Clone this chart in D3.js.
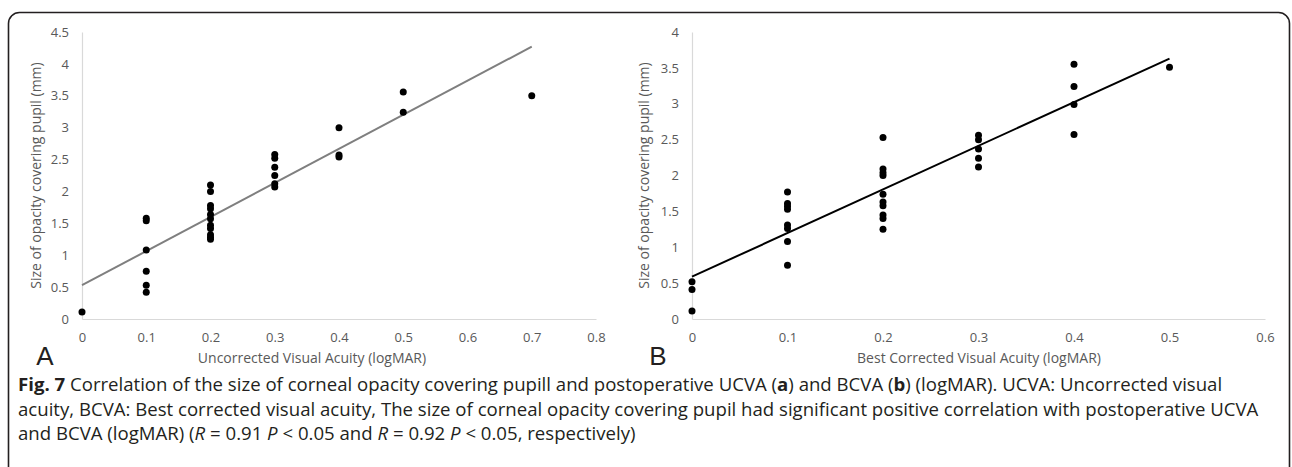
<!DOCTYPE html>
<html>
<head>
<meta charset="utf-8">
<script src="https://cdn.jsdelivr.net/npm/d3@7"></script>
<style>
  body { margin: 0; background: #fff; }
  .axis text { font-family: "Open Sans", sans-serif; font-size: 13px; fill: #595959; }
  .axis path { stroke: #d9d9d9; stroke-width: 1.2; }
  .axis-label { font-family: "Open Sans", sans-serif; font-size: 14px; fill: #595959; }
  .panel-letter { font-family: "Liberation Sans", Arial, sans-serif; font-size: 26px; fill: #231f20; }
  .caption { font-family: "Open Sans", sans-serif; font-size: 18.6px; fill: #231f20; }
</style>
</head>
<body>
<div id="vis_container"></div>
<script>
// Panel A: size of opacity (mm) vs UCVA (logMAR)
var ucvaLevels = [0, 0.1, 0.2, 0.3, 0.4, 0.5, 0.7];
var ucvaOpacity = [
  [0.11],
  [1.58, 1.54, 1.08, 0.75, 0.53, 0.42],
  [2.1, 2.0, 1.78, 1.73, 1.64, 1.57, 1.47, 1.42, 1.32, 1.28, 1.25],
  [2.58, 2.52, 2.38, 2.25, 2.12, 2.07],
  [3.0, 2.57, 2.54],
  [3.56, 3.24],
  [3.5]
];
var ucvaFitX = [0, 0.7];
var ucvaFitY = [0.53, 4.27];
var ucvaXTicks = [0, 0.1, 0.2, 0.3, 0.4, 0.5, 0.6, 0.7, 0.8];
var ucvaYTicks = [0, 0.5, 1, 1.5, 2, 2.5, 3, 3.5, 4, 4.5];

// Panel B: size of opacity (mm) vs BCVA (logMAR)
var bcvaLevels = [0, 0.1, 0.2, 0.3, 0.4, 0.5];
var bcvaOpacity = [
  [0.52, 0.41, 0.11],
  [1.77, 1.61, 1.57, 1.53, 1.31, 1.26, 1.08, 0.75],
  [2.53, 2.09, 2.04, 2.0, 1.74, 1.63, 1.58, 1.45, 1.4, 1.25],
  [2.56, 2.5, 2.37, 2.24, 2.12],
  [3.55, 3.24, 2.99, 2.57],
  [3.51]
];
var bcvaFitX = [0, 0.5];
var bcvaFitY = [0.59, 3.63];
var bcvaXTicks = [0, 0.1, 0.2, 0.3, 0.4, 0.5, 0.6];
var bcvaYTicks = [0, 0.5, 1, 1.5, 2, 2.5, 3, 3.5, 4];

var captionLines = [
  [["b", "Fig. 7"], ["n", " Correlation of the size of corneal opacity covering pupill and postoperative UCVA ("], ["b", "a"], ["n", ") and BCVA ("], ["b", "b"], ["n", ") (logMAR). UCVA: Uncorrected visual"]],
  [["n", "acuity, BCVA: Best corrected visual acuity, The size of corneal opacity covering pupil had significant positive correlation with postoperative UCVA"]],
  [["n", "and BCVA (logMAR) ("], ["i", "R"], ["n", " = 0.91 "], ["i", "P"], ["n", " < 0.05 and "], ["i", "R"], ["n", " = 0.92 "], ["i", "P"], ["n", " < 0.05, respectively)"]]
];

var width = 1292;
var height = 467;

var svg = d3.select("#vis_container")
    .append("svg")
    .attr("width", width)
    .attr("height", height);

// rounded frame round the figure (bottom edge falls off the page)
svg.append("rect")
    .attr("x", 8.5)
    .attr("y", 12.5)
    .attr("width", 1281)
    .attr("height", 500)
    .attr("rx", 11)
    .attr("fill", "none")
    .attr("stroke", "#231f20")
    .attr("stroke-width", 1.6);

var tickFmt = d3.format("~g");

function buildScatter(opt) {
    var x = d3.scaleLinear().domain(opt.xDomain).range([opt.left, opt.right]);
    var y = d3.scaleLinear().domain(opt.yDomain).range([opt.bottom, opt.top]);

    svg.append("g")
        .attr("class", "axis")
        .attr("transform", "translate(0," + opt.bottom + ")")
        .call(d3.axisBottom(x).tickValues(opt.xTicks).tickSize(0).tickPadding(14).tickFormat(tickFmt));

    svg.append("g")
        .attr("class", "axis")
        .attr("transform", "translate(" + opt.left + ",0)")
        .call(d3.axisLeft(y).tickValues(opt.yTicks).tickSize(0).tickPadding(13).tickFormat(tickFmt));

    // x axis label
    svg.append("text")
        .attr("class", "axis-label")
        .attr("x", opt.xLabelX)
        .attr("y", 363)
        .style("text-anchor", "middle")
        .text(opt.xLabel);

    // y axis label
    svg.append("text")
        .attr("class", "axis-label")
        .attr("transform", "translate(" + opt.yLabelX + "," + ((opt.top + opt.bottom) / 2) + ") rotate(-90)")
        .style("text-anchor", "middle")
        .text(opt.yLabel);

    svg.append("text")
        .attr("class", "panel-letter")
        .attr("x", opt.letterX)
        .attr("y", 365)
        .style("text-anchor", "middle")
        .text(opt.letter);

    var lineFunc = d3.line()
        .x(function (d) { return x(d[0]); })
        .y(function (d) { return y(d[1]); });

    svg.append("path")
        .attr("d", lineFunc(d3.zip(opt.fitX, opt.fitY)))
        .attr("stroke", opt.lineColor)
        .attr("stroke-width", opt.lineWidth)
        .attr("fill", "none");

    var pts = [];
    opt.levels.forEach(function (lv, i) {
        opt.values[i].forEach(function (v) { pts.push([lv, v]); });
    });

    svg.append("g")
        .selectAll("circle")
        .data(pts)
        .enter()
        .append("circle")
        .attr("cx", function (d) { return x(d[0]); })
        .attr("cy", function (d) { return y(d[1]); })
        .attr("r", 3.5)
        .attr("fill", "#000");
}

buildScatter({
    xDomain: [0, 0.8], yDomain: [0, 4.5],
    left: 82, right: 596, top: 32, bottom: 319,
    xTicks: ucvaXTicks, yTicks: ucvaYTicks,
    levels: ucvaLevels, values: ucvaOpacity,
    fitX: ucvaFitX, fitY: ucvaFitY,
    lineColor: "#7f7f7f", lineWidth: 2,
    xLabel: "Uncorrected Visual Acuity (logMAR)", xLabelX: 312,
    yLabel: "Size of opacity covering pupil (mm)", yLabelX: 41,
    letter: "A", letterX: 45
});

buildScatter({
    xDomain: [0, 0.6], yDomain: [0, 4],
    left: 692, right: 1265, top: 32, bottom: 319,
    xTicks: bcvaXTicks, yTicks: bcvaYTicks,
    levels: bcvaLevels, values: bcvaOpacity,
    fitX: bcvaFitX, fitY: bcvaFitY,
    lineColor: "#000", lineWidth: 2,
    xLabel: "Best Corrected Visual Acuity (logMAR)", xLabelX: 979,
    yLabel: "Size of opacity covering pupil (mm)", yLabelX: 649,
    letter: "B", letterX: 658
});

// caption
var cap = svg.append("text").attr("class", "caption");
captionLines.forEach(function (line, i) {
    line.forEach(function (seg, j) {
        var t = cap.append("tspan").text(seg[1]);
        if (j === 0) t.attr("x", 18).attr("y", 391 + i * 24.5);
        if (seg[0] === "b") t.style("font-weight", "bold");
        if (seg[0] === "i") t.style("font-style", "italic");
    });
});
</script>
</body>
</html>
